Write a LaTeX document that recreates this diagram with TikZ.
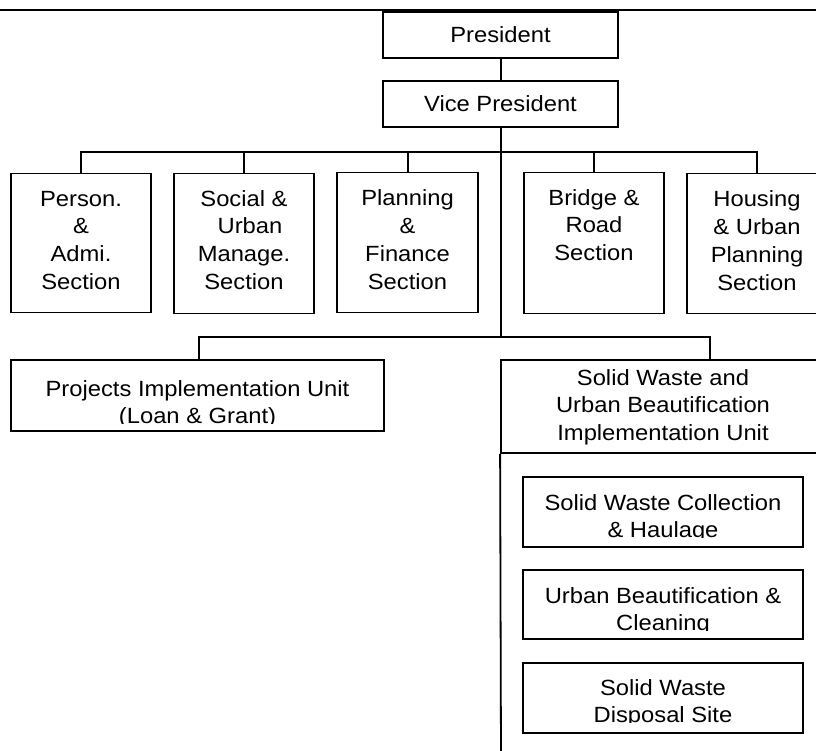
\documentclass[tikz,border=0pt]{standalone}
\usepackage{fontspec}
\setmainfont{Liberation Sans}[FakeStretch=1.08]
\begin{document}
\begin{tikzpicture}[x=1pt,y=-1pt,
  box/.style={draw, line width=1.8pt, inner sep=0pt, font=\fontsize{22}{27.8}\selectfont},
  lbl/.style={align=center, inner sep=0pt, anchor=north, font=\fontsize{22}{27.8}\selectfont},
  link/.style={line width=2pt}]
\useasboundingbox (0,0) rectangle (816,751);
\clip (0,0) rectangle (816,751);
% top rule
\coordinate (ruleL) at (0,10);
\coordinate (ruleR) at (816,10);
\draw[line width=2.4pt] (ruleL) -- (ruleR);
% top boxes
\node[box, minimum width=235, minimum height=45.5] (pres) at (500.5,35) {President};
\node[box, minimum width=235, minimum height=46] (vp) at (500.5,104) {Vice President};
% sections
\node[box, minimum width=140, minimum height=139] (pers) at (81,243) {};
\node[box, minimum width=140, minimum height=140] (soc) at (244,243.5) {};
\node[box, minimum width=141, minimum height=140] (plan) at (407.5,242.5) {};
\node[box, minimum width=140, minimum height=141] (brid) at (594,243) {};
\node[box, minimum width=140, minimum height=140] (hous) at (757,243.5) {};
\node[lbl] (persT) at (81,186.5) {\strut Person.\\\&\\Admi.\\Section};
\node[lbl] (socT) at (244,186.5) {\strut Social \&\\\hspace*{12pt}Urban\\Manage.\\Section};
\node[lbl] (planT) at (407.5,186) {\strut Planning\\\&\\Finance\\Section};
\node[lbl] (bridT) at (594,185.5) {\strut Bridge \&\\Road\\Section};
\node[lbl] (housT) at (757,187) {\strut Housing\\\& Urban\\Planning\\Section};
% units
\node[box, minimum width=373, minimum height=71] (piu) at (197.5,395.5) {};
\begin{scope}
  \clip (11,360) rectangle (384,423);
  \node[lbl] (piuT) at (197.5,376.5) {\strut Projects Implementation Unit\\(Loan \& Grant)};
\end{scope}
\node[box, minimum width=324, minimum height=93] (sw) at (663,406.5) {};
\node[lbl] (swT) at (663,365.5) {\strut Solid Waste and\\Urban Beautification\\Implementation Unit};
\coordinate (swEnd) at (501,760);
\draw[line width=1.8pt] (sw.south west) -- (swEnd);
% sub units
\node[box, minimum width=280, minimum height=70] (c1) at (663,512) {};
\node[box, minimum width=280, minimum height=69] (c2) at (663,604.5) {};
\node[box, minimum width=280, minimum height=70] (c3) at (663,698) {};
\begin{scope}
  \clip (523,477) rectangle (803,537.5);
  \node[lbl] (c1T) at (663,490.5) {\strut Solid Waste Collection\\\& Haulage};
\end{scope}
\begin{scope}
  \clip (523,570) rectangle (803,630);
  \node[lbl] (c2T) at (663,583.5) {\strut Urban Beautification \&\\Cleaning};
\end{scope}
\begin{scope}
  \clip (523,663) rectangle (803,722);
  \node[lbl] (c3T) at (663,675.5) {\strut Solid Waste\\Disposal Site};
\end{scope}
% connectors
\coordinate (b1) at (500.5,151.7);
\coordinate (b2) at (500.5,337);
\coordinate (swDrop) at (710,360);
\draw[link] (pres.south) -- (vp.north);
\draw[link] (vp.south) -- (b2);
\draw[link] (pers.north) |- (b1) -| (hous.north);
\draw[link] (soc.north) -- (soc.north |- b1);
\draw[link] (plan.north) -- (plan.north |- b1);
\draw[link] (brid.north) -- (brid.north |- b1);
\draw[link] ([xshift=1pt]piu.north) |- (b2) -| (swDrop);
\end{tikzpicture}
\end{document}
